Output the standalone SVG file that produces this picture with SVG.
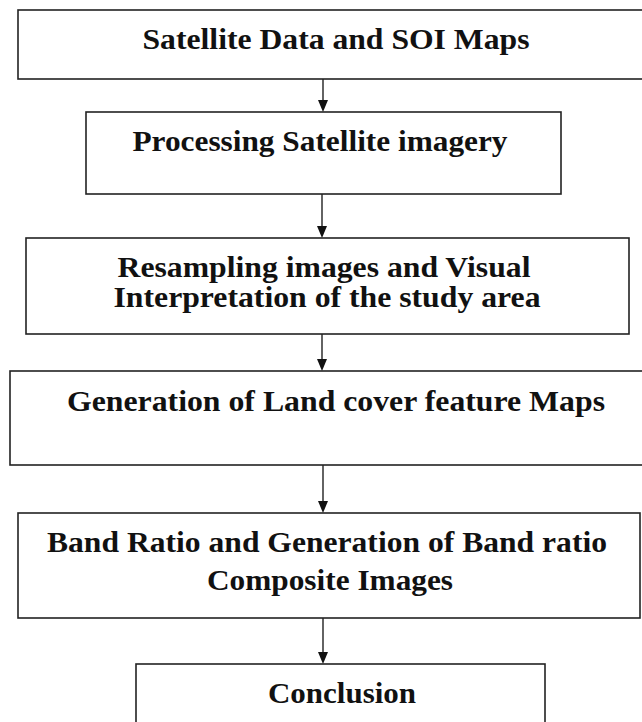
<svg xmlns="http://www.w3.org/2000/svg" width="642" height="722" viewBox="0 0 642 722">
  <style>
    .box { fill: #ffffff; stroke: #222; stroke-width: 1.6; }
    .lbl { font-family: "Liberation Serif", "Times New Roman", serif; font-weight: bold; font-size: 30px; fill: #111; text-anchor: middle; }
    .con { stroke: #222; stroke-width: 1.4; fill: none; }
    .head { fill: #111; }
  </style>
  <rect x="0" y="0" width="642" height="722" fill="#ffffff"/>
  <g id="connectors">
    <path class="con" d="M323,79 V101"/>
    <path class="head" d="M318,100 L328,100 L323,112 Z"/>
    <path class="con" d="M322,194 V227"/>
    <path class="head" d="M317,226 L327,226 L322,238 Z"/>
    <path class="con" d="M322,334 V360"/>
    <path class="head" d="M317,359 L327,359 L322,371 Z"/>
    <path class="con" d="M323,465 V502"/>
    <path class="head" d="M318,501 L328,501 L323,513 Z"/>
    <path class="con" d="M323,618 V653"/>
    <path class="head" d="M318,652 L328,652 L323,664 Z"/>
  </g>
  <g id="node1">
    <rect class="box" x="18" y="10" width="640" height="69"/>
    <text class="lbl" x="336" y="49" textLength="387" lengthAdjust="spacingAndGlyphs">Satellite Data and SOI Maps</text>
  </g>
  <g id="node2">
    <rect class="box" x="86" y="112" width="475" height="82"/>
    <text class="lbl" x="320" y="151" textLength="375" lengthAdjust="spacingAndGlyphs">Processing Satellite imagery</text>
  </g>
  <g id="node3">
    <rect class="box" x="26" y="238" width="603" height="96"/>
    <text class="lbl" x="324" y="277" textLength="413" lengthAdjust="spacingAndGlyphs">Resampling images and Visual</text>
    <text class="lbl" x="327" y="307" textLength="427" lengthAdjust="spacingAndGlyphs">Interpretation of the study area</text>
  </g>
  <g id="node4">
    <rect class="box" x="10" y="371" width="650" height="94"/>
    <text class="lbl" x="336" y="411" textLength="538" lengthAdjust="spacingAndGlyphs">Generation of Land cover feature Maps</text>
  </g>
  <g id="node5">
    <rect class="box" x="18" y="513" width="622" height="105"/>
    <text class="lbl" x="327" y="552" textLength="560" lengthAdjust="spacingAndGlyphs">Band Ratio and Generation of Band ratio</text>
    <text class="lbl" x="330" y="590" textLength="246" lengthAdjust="spacingAndGlyphs">Composite Images</text>
  </g>
  <g id="node6">
    <rect class="box" x="136" y="664" width="409" height="80"/>
    <text class="lbl" x="342" y="703" textLength="148" lengthAdjust="spacingAndGlyphs">Conclusion</text>
  </g>
</svg>
